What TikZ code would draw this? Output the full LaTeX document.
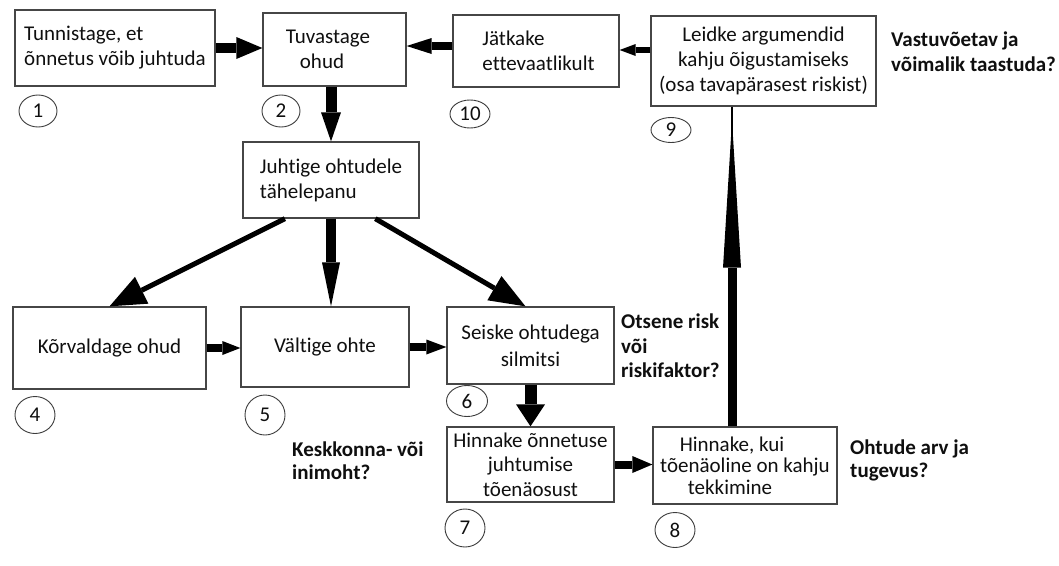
\documentclass[tikz,border=0pt]{standalone}
\usepackage{fontspec}
\setmainfont{Carlito}[Ligatures={NoCommon}]
\usetikzlibrary{arrows.meta,calc,shapes.geometric}
\definecolor{boxedge}{RGB}{70,70,70}
\definecolor{ringedge}{RGB}{60,60,60}
\definecolor{ink}{RGB}{15,15,15}
\begin{document}
\begin{tikzpicture}[x=1pt,y=-1pt,
  box/.style={draw=boxedge, line width=1.3pt, inner sep=0pt, text=ink,
              font=\fontsize{21}{25}\selectfont},
  ring/.style={draw=ringedge, line width=0.9pt, ellipse, inner sep=0pt, text=ink,
               font=\fontsize{21}{25}\selectfont},
  note/.style={inner sep=0pt, anchor=north west, align=left, text=ink,
               font=\fontsize{21}{24}\selectfont\bfseries},
  link/.style args={#1/#2/#3}{draw=black, line width=#1,
               -{Triangle[length=#2, width=#3, line width=0pt]}},
]
\path[use as bounding box, fill=white] (0,0) rectangle (1059,565);

% process boxes
\node[box, minimum width=200pt, minimum height=76pt, align=left] (b1) at (115,48)
  {Tunnistage, et\\õnnetus võib juhtuda};
\node[box, minimum width=143pt, minimum height=73pt, align=center] (b2) at (334.5,49.5)
  {Tuvastage\hspace*{13pt}\\ohud\hspace*{25pt}};
\node[box, minimum width=166pt, minimum height=72pt, align=left] (b10) at (536,51)
  {\hspace*{5pt}Jätkake\\\hspace*{5pt}ettevaatlikult};
\node[box, minimum width=225pt, minimum height=90pt, align=center] (b9) at (763.5,61)
  {Leidke argumendid\\kahju õigustamiseks\\(osa tavapärasest riskist)};
\node[box, minimum width=176pt, minimum height=76pt, align=left] (b3) at (331,180)
  {Juhtige ohtudele\\tähelepanu};
\node[box, minimum width=193pt, minimum height=82pt] (b4) at (109.5,348)
  {Kõrvaldage ohud};
\node[box, minimum width=168pt, minimum height=80pt] (b5) at (325,347)
  {Vältige ohte};
\node[box, minimum width=167pt, minimum height=77pt, align=center,
      font=\fontsize{21}{27}\selectfont] (b6) at (530.5,345.5)
  {Seiske ohtudega\\silmitsi};
\node[box, minimum width=167pt, minimum height=75pt, align=center,
      font=\fontsize{21}{24.5}\selectfont] (b7) at (530.5,464.5)
  {Hinnake õnnetuse\\juhtumise\\tõenäosust};
\node[box, minimum width=184pt, minimum height=77pt, align=center,
      font=\fontsize{21}{21.5}\selectfont] (b8) at (745,465.5)
  {Hinnake, kui\hspace*{26pt}\\tõenäoline on kahju\\tekkimine\hspace*{30pt}};

% step numbers
\node[ring, minimum width=38pt, minimum height=32pt] (n1) at (38,111) {1};
\node[ring, minimum width=38pt, minimum height=32pt] (n2) at (281,111) {2};
\node[ring, minimum width=40pt, minimum height=28pt] (n10) at (470,114) {10};
\node[ring, minimum width=40pt, minimum height=25pt] (n9) at (671,130) {9};
\node[ring, minimum width=40pt, minimum height=37pt] (n4) at (35,415) {4};
\node[ring, minimum width=40pt, minimum height=40pt] (n5) at (265,415) {5};
\node[ring, minimum width=41pt, minimum height=31pt] (n6) at (467,401) {6};
\node[ring, minimum width=40pt, minimum height=38pt] (n7) at (465,528) {7};
\node[ring, minimum width=40pt, minimum height=35pt] (n8) at (675,530) {8};

% side questions
\node[note, font=\fontsize{21}{25}\selectfont\bfseries] (q1) at (891,32)
  {Vastuvõetav ja\\võimalik taastuda?};
\node[note, font=\fontsize{21}{24.5}\selectfont\bfseries] (q2) at (621,314)
  {Otsene risk\\või\\riskifaktor?};
\node[note, font=\fontsize{21}{23}\selectfont\bfseries] (q3) at (292,442)
  {Keskkonna- või\\inimoht?};
\node[note, font=\fontsize{21}{23}\selectfont\bfseries] (q4) at (850,440)
  {Ohtude arv ja\\tugevus?};

% connectors
\draw[link=10pt/26pt/22pt] (b1.east) -- (b1.east -| b2.west);
\draw[link=11pt/29pt/20pt] (b3.north |- b2.south) -- (b3.north);
\draw[link=8pt/25pt/16pt] ([yshift=5pt]b10.west) -- ([yshift=5pt]b10.west -| b2.east);
\draw[link=6pt/16pt/12pt] ([yshift=11pt]b9.west) -- ([yshift=11pt]b9.west -| b10.east);
\draw[link=5pt/36pt/30pt] ($(b3.south west)!0.24!(b3.south east)$) -- (b4.north);
\draw[link=10pt/44pt/18pt] (b3.south) -- (b3.south |- b5.north);
\draw[link=5pt/36pt/28pt] ($(b3.south west)!0.75!(b3.south east)$) -- ([xshift=-5pt]b6.north);
\draw[link=8pt/18pt/14pt] (b4.east) -- (b4.east -| b5.west);
\draw[link=8pt/20pt/15pt] (b5.east) -- (b5.east -| b6.west);
\draw[link=12pt/22pt/29pt] (b6.south) -- (b6.south |- b7.north);
\draw[link=8pt/20pt/17pt] (b7.east) -- (b7.east -| b8.west);
\coordinate (up) at ([xshift=-13pt]b8.north);
\draw[link=9pt/147pt/18pt] (up) -- ($(up |- b9.south)+(0,14)$);
\draw[line width=1.8pt] (up |- b9.south) -- ++(0,40);
\end{tikzpicture}
\end{document}
